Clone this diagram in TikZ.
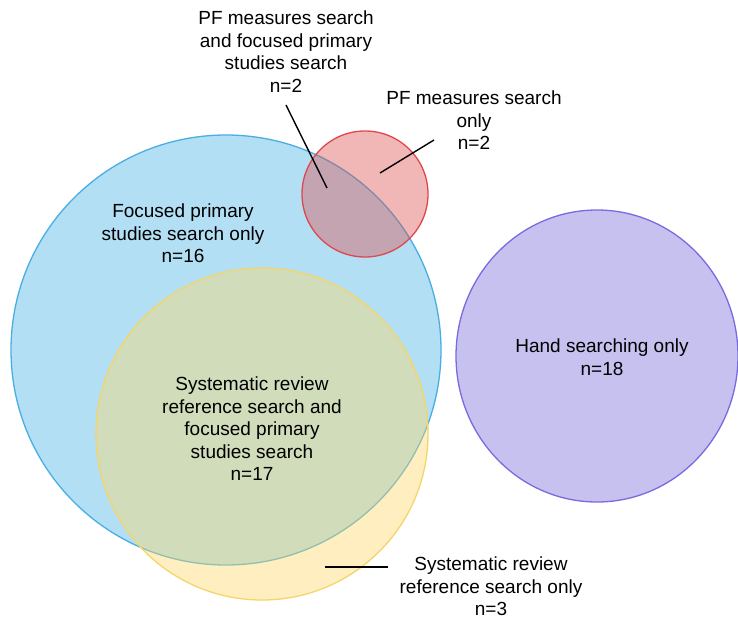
\documentclass[tikz,border=0pt]{standalone}
\usepackage{fontspec}
\setmainfont{Liberation Sans}
\definecolor{bluefill}{HTML}{43B1E6}
\definecolor{bluedraw}{HTML}{4AAEE3}
\definecolor{redfill}{HTML}{DE4D4D}
\definecolor{reddraw}{HTML}{E0474C}
\definecolor{yelfill}{HTML}{FFD962}
\definecolor{yeldraw}{HTML}{F5D56A}
\definecolor{purfill}{HTML}{7566D9}
\definecolor{purdraw}{HTML}{7A6AE0}
\begin{document}
\begin{tikzpicture}[x=1pt,y=-1pt,
  setc/.style={line width=1.3pt, fill opacity=0.4},
  lbl/.style={align=center, inner sep=0pt, anchor=north, font=\fontsize{19}{22.5}\selectfont, text=black},
  lead/.style={line width=1.4pt, black}]
\useasboundingbox (0,0) rectangle (738,618);
\fill[white] (0,0) rectangle (738,618);
\begin{scope}
\clip (0,0) rectangle (738,618);
\draw[setc, draw=bluedraw, fill=bluefill] (226,350) circle[radius=215pt];
\draw[setc, draw=yeldraw, fill=yelfill] (262,434) circle[radius=166pt];
\draw[setc, draw=reddraw, fill=redfill] (365,194) circle[radius=63pt];
\draw[setc, draw=purdraw, fill=purfill] (597,356) ellipse[x radius=141pt, y radius=146pt];
\end{scope}
\node[lbl] (t1) at (286,11) {PF measures search\\and focused primary\\studies search\\n=2};
\node[lbl] (t2) at (474,91) {PF measures search\\only\\n=2};
\node[lbl] (t3) at (183,204) {Focused primary\\studies search only\\n=16};
\node[lbl] (t4) at (252,377) {Systematic review\\reference search and\\focused primary\\studies search\\n=17};
\node[lbl] (t5) at (602,339) {Hand searching only\\n=18};
\node[lbl] (t6) at (491,557) {Systematic review\\reference search only\\n=3};
\coordinate (c1a) at (286,105);
\coordinate (c1b) at (327,188);
\coordinate (c2a) at (434,140);
\coordinate (c2b) at (380,173);
\coordinate (c3a) at (388,567);
\coordinate (c3b) at (325,567);
\draw[lead] (c1a) -- (c1b);
\draw[lead] (c2a) -- (c2b);
\draw[lead] (c3a) -- (c3b);
\end{tikzpicture}
\end{document}
